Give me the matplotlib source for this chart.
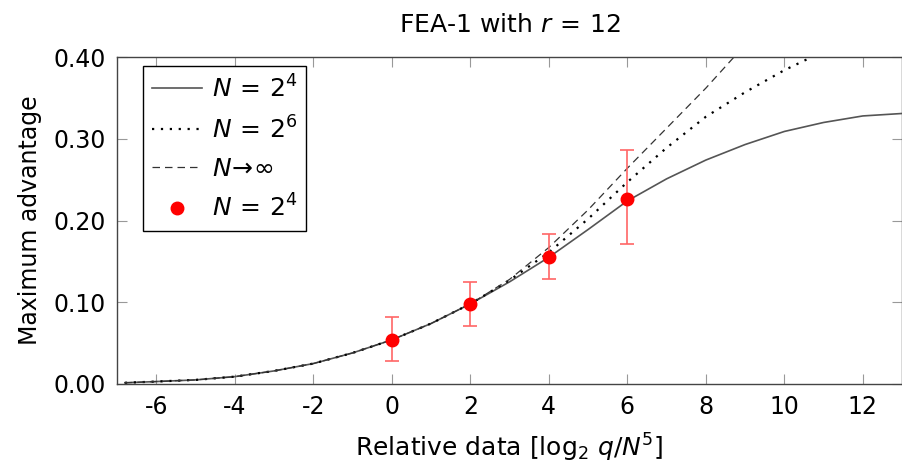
import matplotlib
matplotlib.use('Agg')
import matplotlib.pyplot as plt

plt.rcParams['font.family'] = ['DejaVu Sans']
plt.rcParams['mathtext.fontset'] = 'dejavusans'

# curves
x_n16 = [-6.8, -6, -5, -4, -3, -2, -1, 0, 1, 2, 3, 4, 5, 6, 7, 8, 9, 10, 11, 12, 13]
y_n16 = [0.0015, 0.003, 0.005, 0.009, 0.016, 0.025, 0.038, 0.054, 0.074, 0.098,
         0.125, 0.155, 0.189, 0.224, 0.251, 0.274, 0.293, 0.309, 0.320, 0.328, 0.331]

x_n64 = [-6.8, -6, -5, -4, -3, -2, -1, 0, 1, 2, 3, 4, 5, 6, 7, 8, 9, 10, 11]
y_n64 = [0.0015, 0.003, 0.005, 0.009, 0.016, 0.025, 0.038, 0.054, 0.074, 0.098,
         0.127, 0.161, 0.202, 0.247, 0.289, 0.327, 0.357, 0.384, 0.407]

x_inf = [-6.8, -6, -5, -4, -3, -2, -1, 0, 1, 2, 3, 4, 5, 6, 7, 8, 9]
y_inf = [0.0015, 0.003, 0.005, 0.009, 0.016, 0.025, 0.038, 0.054, 0.074, 0.098,
         0.128, 0.167, 0.213, 0.264, 0.313, 0.362, 0.415]

# experiments
x_exp = [0, 2, 4, 6]
y_exp = [0.054, 0.098, 0.155, 0.226]
y_lo = [0.028, 0.071, 0.128, 0.171]
y_hi = [0.082, 0.125, 0.1835, 0.286]

x_ticks = [-6, -4, -2, 0, 2, 4, 6, 8, 10, 12]
y_ticks = [0.0, 0.1, 0.2, 0.3, 0.4]

fig = plt.figure(figsize=(9.03, 4.68), dpi=100)
ax = fig.add_axes([0.1296, 0.1795, 0.8694, 0.6985])

ax.plot(x_n16, y_n16, color='#555555', lw=1.2, label=r'$N\,=\,2^4$')
ax.plot(x_n64, y_n64, color='black', lw=1.6, ls=(0, (1, 3)), label=r'$N\,=\,2^6$')
ax.plot(x_inf, y_inf, color='#333333', lw=0.9, ls=(0, (6, 4)), label=r'$N\!\rightarrow\!\infty$')

err = [[m - l for m, l in zip(y_exp, y_lo)], [h - m for m, h in zip(y_exp, y_hi)]]
ax.errorbar(x_exp, y_exp, yerr=err, fmt='none', ecolor='#ff6666', elinewidth=1.2,
            capsize=5, capthick=1.2)
ax.plot(x_exp, y_exp, 'o', color='red', ms=9, ls='none', label=r'$N\,=\,2^4$')

ax.set_xlim(-7, 13)
ax.set_ylim(0, 0.40)
ax.set_xticks(x_ticks)
ax.set_xticklabels([str(t) for t in x_ticks])
ax.set_yticks(y_ticks)
ax.set_yticklabels(['%.2f' % t for t in y_ticks])
ax.tick_params(direction='in', length=7, width=0.8, color='#999999', labelsize=17,
               top=True, right=True, pad=8)
for s in ax.spines.values():
    s.set_color('#444444')
    s.set_linewidth(1.0)

ax.set_xlabel(r'Relative data [$\log_2\, q/N^5$]', fontsize=18, labelpad=9)
ax.set_ylabel('Maximum advantage', fontsize=17, labelpad=8)
ax.set_title(r'FEA-1 with $r\,=\,12$', fontsize=18, pad=18)

leg = ax.legend(loc='upper left', fontsize=18, frameon=True, fancybox=False,
                edgecolor='black', framealpha=1, handlelength=2.0, handletextpad=0.4,
                bbox_to_anchor=(0.033, 0.972), borderaxespad=0.0,
                labelspacing=0.55, borderpad=0.35)
leg.get_frame().set_linewidth(1.0)

fig.savefig('out.png', dpi=100)
